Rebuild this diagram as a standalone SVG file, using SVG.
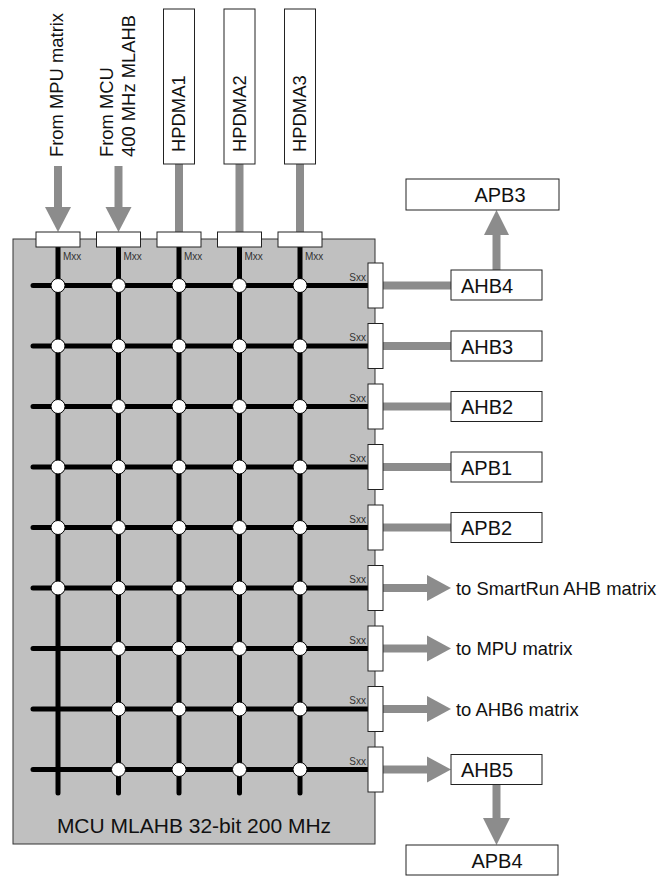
<svg xmlns="http://www.w3.org/2000/svg" width="664" height="876" viewBox="0 0 664 876">
<style>
text{font-family:"Liberation Sans",Arial,sans-serif;fill:#111}
.big{font-size:18.4px}
.lbl{font-size:20px}
.small{font-size:10px;fill:#333}
.box{fill:#fff;stroke:#222;stroke-width:1}
.gl{stroke:#8c8c8c;stroke-width:8;fill:none}
.ga{fill:#8c8c8c}
.bus{stroke:#000;stroke-width:5;stroke-linecap:round;fill:none}
.x{fill:#fff;stroke:#000;stroke-width:1}
</style>
<defs>
<circle id="xc" r="7" class="x"/>
</defs>
<g id="panel">
<rect x="13" y="239" width="362" height="605" fill="#c0c0c0" stroke="#333" stroke-width="1"/>
<text x="194" y="833" text-anchor="middle" style="font-size:21px">MCU MLAHB 32-bit 200 MHz</text>
</g>
<g id="connectors">
<path class="gl" d="M58,166V208"/>
<path class="ga" d="M45,207H71L58,232Z"/>
<path class="gl" d="M118.5,166V208"/>
<path class="ga" d="M105.5,207H131.5L118.5,232Z"/>
<path class="gl" d="M179,164V232M239.5,164V232M300,164V232"/>
<path class="gl" d="M383,285.5H451M383,346H451M383,406.5H451M383,467H451M383,527.5H451"/>
<path class="gl" d="M383,588H428M383,648.5H428M383,709H428M383,769.5H428"/>
<path class="ga" d="M427,575L451,588L427,601Z"/>
<path class="ga" d="M427,635.5L451,648.5L427,661.5Z"/>
<path class="ga" d="M427,696L451,709L427,722Z"/>
<path class="ga" d="M427,756.5L451,769.5L427,782.5Z"/>
<path class="gl" d="M496.5,270V234"/>
<path class="ga" d="M484,235H509L496.5,210Z"/>
<path class="gl" d="M496.5,784V820"/>
<path class="ga" d="M483,818H510L496.5,845Z"/>
</g>
<g id="matrix">
<path class="bus" d="M58,247V793M118.5,247V793M179,247V793M239.5,247V793M300,247V793"/>
<path class="bus" d="M33,285.5H368M33,346H368M33,406.5H368M33,467H368M33,527.5H368M33,588H368M33,648.5H368M33,709H368M33,769.5H368"/>
<g id="crossings">
<use href="#xc" x="58" y="285.5"/><use href="#xc" x="118.5" y="285.5"/><use href="#xc" x="179" y="285.5"/><use href="#xc" x="239.5" y="285.5"/><use href="#xc" x="300" y="285.5"/>
<use href="#xc" x="58" y="346"/><use href="#xc" x="118.5" y="346"/><use href="#xc" x="179" y="346"/><use href="#xc" x="239.5" y="346"/><use href="#xc" x="300" y="346"/>
<use href="#xc" x="58" y="406.5"/><use href="#xc" x="118.5" y="406.5"/><use href="#xc" x="179" y="406.5"/><use href="#xc" x="239.5" y="406.5"/><use href="#xc" x="300" y="406.5"/>
<use href="#xc" x="58" y="467"/><use href="#xc" x="118.5" y="467"/><use href="#xc" x="179" y="467"/><use href="#xc" x="239.5" y="467"/><use href="#xc" x="300" y="467"/>
<use href="#xc" x="58" y="527.5"/><use href="#xc" x="118.5" y="527.5"/><use href="#xc" x="179" y="527.5"/><use href="#xc" x="239.5" y="527.5"/><use href="#xc" x="300" y="527.5"/>
<use href="#xc" x="58" y="588"/><use href="#xc" x="118.5" y="588"/><use href="#xc" x="179" y="588"/><use href="#xc" x="239.5" y="588"/><use href="#xc" x="300" y="588"/>
<use href="#xc" x="118.5" y="648.5"/><use href="#xc" x="179" y="648.5"/><use href="#xc" x="239.5" y="648.5"/><use href="#xc" x="300" y="648.5"/>
<use href="#xc" x="118.5" y="709"/><use href="#xc" x="179" y="709"/><use href="#xc" x="239.5" y="709"/><use href="#xc" x="300" y="709"/>
<use href="#xc" x="118.5" y="769.5"/><use href="#xc" x="179" y="769.5"/><use href="#xc" x="239.5" y="769.5"/><use href="#xc" x="300" y="769.5"/>
</g>
</g>
<g id="master-ports">
<rect class="box" x="36" y="232" width="44" height="15"/>
<rect class="box" x="96.5" y="232" width="44" height="15"/>
<rect class="box" x="157" y="232" width="44" height="15"/>
<rect class="box" x="217.5" y="232" width="44" height="15"/>
<rect class="box" x="278" y="232" width="44" height="15"/>
<text class="small" x="63" y="260">Mxx</text>
<text class="small" x="123.5" y="260">Mxx</text>
<text class="small" x="184" y="260">Mxx</text>
<text class="small" x="244.5" y="260">Mxx</text>
<text class="small" x="305" y="260">Mxx</text>
</g>
<g id="slave-ports">
<rect class="box" x="368" y="263" width="15" height="45"/>
<rect class="box" x="368" y="323.5" width="15" height="45"/>
<rect class="box" x="368" y="384" width="15" height="45"/>
<rect class="box" x="368" y="444.5" width="15" height="45"/>
<rect class="box" x="368" y="505" width="15" height="45"/>
<rect class="box" x="368" y="565.5" width="15" height="45"/>
<rect class="box" x="368" y="626" width="15" height="45"/>
<rect class="box" x="368" y="686.5" width="15" height="45"/>
<rect class="box" x="368" y="747" width="15" height="45"/>
<text class="small" x="366" y="280.5" text-anchor="end">Sxx</text>
<text class="small" x="366" y="341" text-anchor="end">Sxx</text>
<text class="small" x="366" y="401.5" text-anchor="end">Sxx</text>
<text class="small" x="366" y="462" text-anchor="end">Sxx</text>
<text class="small" x="366" y="522.5" text-anchor="end">Sxx</text>
<text class="small" x="366" y="583" text-anchor="end">Sxx</text>
<text class="small" x="366" y="643.5" text-anchor="end">Sxx</text>
<text class="small" x="366" y="704" text-anchor="end">Sxx</text>
<text class="small" x="366" y="764.5" text-anchor="end">Sxx</text>
</g>
<g id="from-mpu">
<text class="big" transform="translate(63,157) rotate(-90)">From MPU matrix</text>
</g>
<g id="from-mcu">
<text class="big" transform="translate(113,157) rotate(-90)">From MCU</text>
<text class="big" transform="translate(135,157) rotate(-90)">400 MHz MLAHB</text>
</g>
<g id="hpdma1">
<rect class="box" x="163.5" y="9" width="31" height="155"/>
<text class="big" transform="translate(185,152) rotate(-90)">HPDMA1</text>
</g>
<g id="hpdma2">
<rect class="box" x="224" y="9" width="31" height="155"/>
<text class="big" transform="translate(245.5,152) rotate(-90)">HPDMA2</text>
</g>
<g id="hpdma3">
<rect class="box" x="284.5" y="9" width="31" height="155"/>
<text class="big" transform="translate(306,152) rotate(-90)">HPDMA3</text>
</g>
<g id="apb3">
<rect class="box" x="406" y="179" width="153" height="31"/>
<text class="lbl" x="500" y="202" text-anchor="middle">APB3</text>
</g>
<g id="ahb4">
<rect class="box" x="451" y="270" width="91" height="30"/>
<text class="lbl" x="461" y="292.5">AHB4</text>
</g>
<g id="ahb3">
<rect class="box" x="451" y="331" width="91" height="30"/>
<text class="lbl" x="461" y="353.5">AHB3</text>
</g>
<g id="ahb2">
<rect class="box" x="451" y="391.5" width="91" height="30"/>
<text class="lbl" x="461" y="414">AHB2</text>
</g>
<g id="apb1">
<rect class="box" x="451" y="452" width="91" height="30"/>
<text class="lbl" x="461" y="474.5">APB1</text>
</g>
<g id="apb2">
<rect class="box" x="451" y="512.5" width="91" height="30"/>
<text class="lbl" x="461" y="535">APB2</text>
</g>
<g id="smartrun">
<text class="big" x="456" y="594.5">to SmartRun AHB matrix</text>
</g>
<g id="mpu">
<text class="big" x="456" y="655">to MPU matrix</text>
</g>
<g id="ahb6">
<text class="big" x="456" y="715.5">to AHB6 matrix</text>
</g>
<g id="ahb5">
<rect class="box" x="451" y="754.5" width="91" height="30"/>
<text class="lbl" x="461" y="777">AHB5</text>
</g>
<g id="apb4">
<rect class="box" x="406" y="845" width="152" height="30"/>
<text class="lbl" x="497" y="868" text-anchor="middle">APB4</text>
</g>
</svg>
